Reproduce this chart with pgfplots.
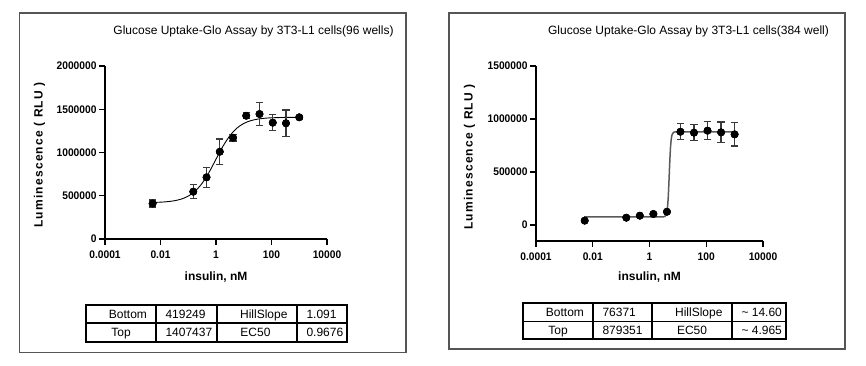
\documentclass[border=0pt]{standalone}
\usepackage{pgfplots}
\pgfplotsset{compat=1.18}
\usepackage{fontspec}
\setmainfont{Liberation Sans}
\newfontfamily\narrowsans[FakeStretch=0.93]{Liberation Sans}
\definecolor{framegray}{HTML}{555555}
\definecolor{errgray}{HTML}{3A3A3A}
\definecolor{curvegray}{HTML}{5A5A5A}
\newcommand{\lab}{\fontsize{12}{14}\selectfont\bfseries}
\newcommand{\tfont}{\fontsize{12}{14}\selectfont}
\newcommand{\tickfont}{\narrowsans\fontsize{11}{13}\selectfont\bfseries}
\begin{document}
\begin{tikzpicture}
\path[use as bounding box, fill=white] (0pt,0pt) rectangle (866pt,365pt);

% ---------- left panel ----------
\begin{axis}[scale only axis, anchor=south west, at={(105pt,126pt)}, width=222pt, height=173pt,
  xmode=log, xmin=1e-4, xmax=1e4,
  axis x line*=bottom, axis y line*=left,
  axis line style={line width=1.6pt, black, -},
  xtick={1e-4,1e-2,1,1e2,1e4}, xticklabels={0.0001,0.01,1,100,10000},
  xminorticks=false, yminorticks=false,
  tick align=outside, major tick length=6pt,
  major tick style={line width=1.4pt, black},
  tick label style={font=\tickfont},
  xticklabel style={yshift=-2pt},
  yticklabel style={xshift=1pt},
  scaled y ticks=false,
  ymin=0, ymax=2000000,
  ytick={0,500000,1000000,1500000,2000000},
  yticklabels={0,500000,1000000,1500000,2000000}]
\addplot[black, line width=0.9pt, smooth, mark=none] coordinates {
(0.005012,422409) (0.01,425939) (0.01778,431715) (0.03162,442354)
(0.05623,461679) (0.1,495853) (0.1778,553751) (0.3162,644451)
(0.5623,771168) (1,922220) (1.778,1071647) (3.162,1194420)
(5.623,1281091) (10,1335743) (17.78,1367833) (31.62,1385899)
(56.23,1395825) (100,1401208) (316.2,1405655) (1000,1406929)};
\addplot[only marks, mark=*, mark size=3.7pt, black,
  error bars/y dir=both, error bars/y explicit,
  error bars/error bar style={line width=1.2pt, errgray},
  error bars/error mark options={rotate=90, mark size=3.6pt, line width=1.2pt, errgray}]
coordinates {
(0.0052,410000) +- (0,40000)
(0.152,547000) +- (0,80000)
(0.457,713000) +- (0,115000)
(1.37,1009000) +- (0,147000)
(4.12,1171000) +- (0,38000)
(12.3,1425000) +- (0,35000)
(37,1445000) +- (0,131000)
(111,1345000) +- (0,92000)
(333,1338000) +- (0,154000)
(1000,1407000) +- (0,20000)};
\addplot[only marks, mark=*, mark size=3.7pt, black] coordinates {
(0.0052,410000) (0.152,547000) (0.457,713000) (1.37,1009000) (4.12,1171000)
(12.3,1425000) (37,1445000) (111,1345000) (333,1338000) (1000,1407000)};
\end{axis}

% ---------- right panel ----------
\begin{axis}[scale only axis, anchor=south west, at={(536pt,124.1pt)}, width=227pt, height=174.9pt,
  xmode=log, xmin=1e-4, xmax=1e4,
  axis x line*=bottom, axis y line*=left,
  axis line style={line width=1.6pt, black, -},
  xtick={1e-4,1e-2,1,1e2,1e4}, xticklabels={0.0001,0.01,1,100,10000},
  xminorticks=false, yminorticks=false,
  tick align=outside, major tick length=6pt,
  major tick style={line width=1.4pt, black},
  tick label style={font=\tickfont},
  xticklabel style={yshift=-2pt},
  yticklabel style={xshift=1pt},
  scaled y ticks=false,
  ymin=-150000, ymax=1500000,
  ytick={0,500000,1000000,1500000},
  yticklabels={0,500000,1000000,1500000}]
\addplot[curvegray, line width=1.5pt, mark=none] coordinates {
(0.005012,76371) (1,76371) (2.512,76409) (3.162,77478) (3.548,82280)
(3.981,107113) (4.169,134431) (4.365,182754) (4.571,261262) (4.786,373002)
(5.012,505472) (5.248,632220) (5.495,730797) (5.754,795952) (6.026,834488)
(6.310,855804) (7.079,874860) (7.943,878511) (10,879300) (1000,879351)};
\addplot[only marks, mark=*, mark size=3.7pt, black,
  error bars/y dir=both, error bars/y explicit,
  error bars/error bar style={line width=1.2pt, errgray},
  error bars/error mark options={rotate=90, mark size=3.6pt, line width=1.2pt, errgray}]
coordinates {
(0.0052,41000) +- (0,5000)
(0.152,69000) +- (0,5000)
(0.457,88000) +- (0,5000)
(1.37,104000) +- (0,5000)
(4.12,125000) +- (0,5000)
(12.3,880000) +- (0,75000)
(37,871000) +- (0,75000)
(111,890000) +- (0,83000)
(333,874000) +- (0,97000)
(1000,855000) +- (0,110000)};
\addplot[only marks, mark=*, mark size=3.7pt, black] coordinates {
(0.0052,41000) (0.152,69000) (0.457,88000) (1.37,104000) (4.12,125000)
(12.3,880000) (37,871000) (111,890000) (333,874000) (1000,855000)};
\end{axis}

\begin{scope}[x=1pt,y=1pt]
% frames
\draw[framegray, line width=1.2pt] (19.5,12.3) rectangle (406,352);
\draw[framegray, line width=1.2pt] (449,16) rectangle (845,352);

\node[anchor=base, font=\tfont] at (253.5,330) {Glucose Uptake-Glo Assay by 3T3-L1 cells(96 wells)};
\node[rotate=90, font=\lab\addfontfeature{LetterSpace=10}] at (39.5,210) {Luminescence ( RLU )};
\node[font=\lab] at (216,88) {insulin, nM};

% left table
\draw[black, line width=1.5pt] (156,60.5) -- (156,23.5) (217,60.5) -- (217,23.5) (297,60.5) -- (297,23.5) (86,42) -- (347,42);
\draw[black, line width=2pt] (86,60.5) rectangle (347,23.5);
\node[anchor=base east, font=\tfont] at (150.5,46.7) {Bottom};
\node[anchor=base, font=\tfont] at (121,28.7) {Top};
\node[anchor=base west, font=\tfont] at (162,46.7) {419249};
\node[anchor=base west, font=\tfont] at (162,28.7) {1407437};
\node[anchor=base east, font=\tfont] at (291,46.7) {HillSlope};
\node[anchor=base, font=\tfont] at (255.5,28.7) {EC50};
\node[anchor=base west, font=\tfont] at (303,46.7) {1.091};
\node[anchor=base west, font=\tfont] at (303,28.7) {0.9676};

\node[anchor=base, font=\tfont] at (688.5,330) {Glucose Uptake-Glo Assay by 3T3-L1 cells(384 well)};
\node[rotate=90, font=\lab\addfontfeature{LetterSpace=10}] at (469.5,208) {Luminescence ( RLU )};
\node[font=\lab] at (649.5,88.3) {insulin, nM};

% right table
\draw[black, line width=1.5pt] (593,62.3) -- (593,25.7) (652,62.3) -- (652,25.7) (732,62.3) -- (732,25.7) (523,43.3) -- (786,43.3);
\draw[black, line width=2pt] (523,62.3) rectangle (786,25.7);
\node[anchor=base east, font=\tfont] at (587.5,48.5) {Bottom};
\node[anchor=base, font=\tfont] at (558,30.2) {Top};
\node[anchor=base west, font=\tfont] at (599,48.5) {76371};
\node[anchor=base west, font=\tfont] at (599,30.2) {879351};
\node[anchor=base east, font=\tfont] at (726,48.5) {HillSlope};
\node[anchor=base, font=\tfont] at (692,30.2) {EC50};
\node[anchor=base west, font=\tfont] at (738,48.5) {\textasciitilde\ 14.60};
\node[anchor=base west, font=\tfont] at (738,30.2) {\textasciitilde\ 4.965};
\end{scope}
\end{tikzpicture}
\end{document}
